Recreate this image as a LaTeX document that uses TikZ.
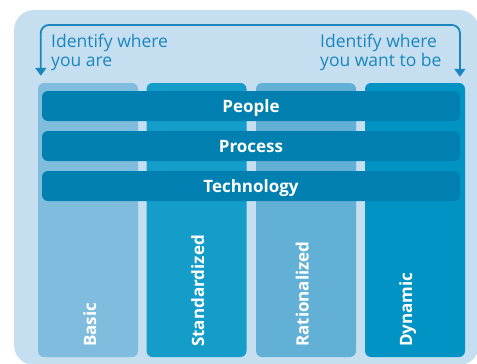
\documentclass[tikz,border=0pt]{standalone}
\usepackage{fontspec}
\setmainfont{Open Sans}
\usetikzlibrary{arrows.meta}
\definecolor{panelbg}{HTML}{C5DFF0}
\definecolor{guide}{HTML}{1B86BE}
\definecolor{cbasic}{HTML}{80BCDD}
\definecolor{cstd}{HTML}{149DC9}
\definecolor{crat}{HTML}{63B0D6}
\definecolor{cdyn}{HTML}{0093C3}
\definecolor{cbar}{HTML}{0080B0}
\begin{document}
\begin{tikzpicture}[x=1pt,y=-1pt,
  column/.style={draw=none, rounded corners=6pt, minimum width=100pt,
    minimum height=274pt, inner sep=0pt},
  layer/.style={fill=cbar, rounded corners=6pt, minimum width=418pt,
    minimum height=30pt, inner sep=0pt, text=white,
    text height=12.7pt, text depth=0pt,
    font=\fontsize{17}{20}\selectfont\bfseries},
  level/.style={rotate=90, anchor=base west, inner sep=0pt, text=white,
    font=\fontsize{17}{20}\selectfont\bfseries},
  note/.style={anchor=north west, inner sep=0pt, align=left, text=guide,
    font=\fontsize{17.5}{19}\selectfont},
  conn/.style={draw=guide, line width=1.8pt, rounded corners=8pt,
    {Triangle[width=11pt,length=8pt]}-{Triangle[width=11pt,length=8pt]}}]
\useasboundingbox (0,0) rectangle (477,364);
% background panel
\begin{scope}
  \clip (0,0) rectangle (477,364);
  \fill[panelbg, rounded corners=20pt] (14,10) rectangle (479,365);
\end{scope}
% maturity columns
\node[column, fill=cbasic] (basic) at (88,220) {};
\node[column, fill=cstd]   (std)   at (196.5,220) {};
\node[column, fill=crat]   (rat)   at (306,220) {};
\node[column, fill=cdyn]   (dyn)   at (415,220) {};
% column labels
\node[level] (lbasic) at (96,347) {Basic};
\node[level] (lstd)   at (204,347) {Standardized};
\node[level] (lrat)   at (308.5,347) {Rationalized};
\node[level] (ldyn)   at (412,347) {Dynamic};
% horizontal layers
\node[layer] (people) at (251,106) {People};
\node[layer] (process) at (251,146) {Process};
\node[layer] (tech) at (251,186) {Technology};
% guide texts
\node[note] (here) at (51,34) {Identify where\\you are};
\node[note] (goal) at (320,34) {Identify where\\you want to be};
% bracket arrow from current to target state
\coordinate (lt) at ([shift={(3,-7)}]basic.north west);
\coordinate (rt) at ([shift={(-5.3,-6)}]dyn.north east);
\draw[conn] (lt) -- (lt |- 0,25) -- (rt |- 0,25) -- (rt);
\end{tikzpicture}
\end{document}
